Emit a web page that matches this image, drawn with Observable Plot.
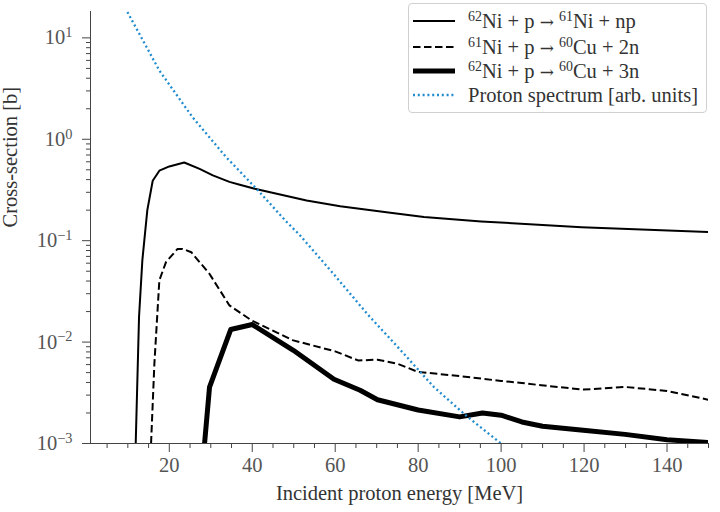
<!DOCTYPE html>
<html><head><meta charset="utf-8">
<script src="https://cdn.jsdelivr.net/npm/d3@7"></script>
<script src="https://cdn.jsdelivr.net/npm/@observablehq/plot@0.6"></script>
<style>
body{margin:0;background:#fff;}
#wrap{position:relative;width:720px;height:512px;font-family:"Liberation Serif",serif;}
#legend{position:absolute;left:408px;top:3px;width:297px;height:108px;border:1px solid #d0d0d0;border-radius:4px;background:rgba(255,255,255,0.85);}
.row{position:absolute;left:0;height:24px;display:flex;align-items:center;white-space:nowrap;}
.row svg{margin-left:4px;display:block;}
.row span{margin-left:13px;font-size:20.5px;color:#333;}
.row span .arr{margin:0;font-family:"DejaVu Serif",serif;font-size:17px;}
sup{font-size:0.68em;vertical-align:0.5em;line-height:0;}
</style></head>
<body><div id="wrap"></div>
<script>
// ---- data ----
const energyNp = [11.9, 12.7, 13.5, 14.7, 16, 17.6, 20, 23.6, 27.3, 30.5, 34.5, 37, 40.6, 53.1, 61.2, 73.3, 81.4, 95.2, 119.4, 150];
const csNp     = [0.001, 0.0177, 0.064, 0.2, 0.39, 0.49, 0.54, 0.59, 0.51, 0.44, 0.38, 0.356, 0.325, 0.249, 0.219, 0.189, 0.171, 0.155, 0.136, 0.1215];

const energy2n = [15.6, 16.4, 17.6, 19.2, 22, 23.2, 25.3, 29.7, 34.5, 39.8, 49.9, 60, 65.5, 70.2, 75.1, 80, 84, 90.3, 100, 105, 109.7, 119.8, 129.9, 140, 150];
const cs2n     = [0.001, 0.0061, 0.0407, 0.0615, 0.083, 0.083, 0.077, 0.047, 0.023, 0.0164, 0.0104, 0.0081, 0.0066, 0.0067, 0.0061, 0.00507, 0.0049, 0.0046, 0.00414, 0.00395, 0.00375, 0.0034, 0.00361, 0.0033, 0.0027];

const energy3n = [28.5, 29.7, 34.8, 40, 49.9, 59.7, 66, 70.2, 80, 90, 95.5, 100, 105, 110, 119.8, 129.9, 140, 150];
const cs3n     = [0.001, 0.0036, 0.0133, 0.0149, 0.0083, 0.0043, 0.00335, 0.0027, 0.00214, 0.00183, 0.002, 0.0019, 0.00163, 0.00148, 0.00135, 0.00123, 0.00109, 0.00102];

const energySpec = [9.9, 17.6, 25.6, 33.7, 41.4, 47.9, 51.5, 59.6, 67.7, 75.8, 83.8, 91.9, 100];
const spectrum   = [18, 4.76, 1.65, 0.667, 0.313, 0.159, 0.113, 0.047, 0.019, 0.0083, 0.0036, 0.00183, 0.001];

const seriesLabels = [
  "<sup>62</sup>Ni + p <span class='arr'>→</span> <sup>61</sup>Ni + np",
  "<sup>61</sup>Ni + p <span class='arr'>→</span> <sup>60</sup>Cu + 2n",
  "<sup>62</sup>Ni + p <span class='arr'>→</span> <sup>60</sup>Cu + 3n",
  "Proton spectrum [arb. units]"
];
const xLabel = "Incident proton energy [MeV]";
const yLabel = "Cross-section [b]";
const xMajor = [20, 40, 60, 80, 100, 120, 140];
const xMinor = [5,10,15,25,30,35,45,50,55,65,70,75,85,90,95,105,110,115,125,130,135,145,150];
const yMajor = [1e-3, 1e-2, 1e-1, 1, 10];
const yMinor = [];
for (const p of [-3,-2,-1,0]) for (let k = 2; k <= 9; k++) yMinor.push(k * Math.pow(10, p));

// ---- build ----
const toRows = (xs, ys) => xs.map((x, i) => ({x, y: ys[i]}));
const styles = [
  {stroke:"#000", strokeWidth:2},
  {stroke:"#000", strokeWidth:2, strokeDasharray:"7.5,3.5"},
  {stroke:"#000", strokeWidth:5},
  {stroke:"#1f8bd0", strokeWidth:2.3, strokeDasharray:"2,2.8"}
];
const datasets = [toRows(energyNp, csNp), toRows(energy2n, cs2n), toRows(energy3n, cs3n), toRows(energySpec, spectrum)];

const plot = Plot.plot({
  width: 720, height: 512,
  marginLeft: 90, marginRight: 12, marginTop: 11, marginBottom: 69,
  style: {fontFamily: "'Liberation Serif', serif", fontSize: "20.5px", background: "white", color: "#444"},
  x: {type: "linear", domain: [1, 150]},
  y: {type: "log", domain: [1e-3, 18.2]},
  marks: [
    Plot.axisY({ticks: yMinor, tickSize: 4, tickFormat: () => "", label: null, stroke: "#444"}),
    Plot.axisY({ticks: yMajor, tickSize: 8, tickPadding: 10, tickFormat: d => "10^" + Math.round(Math.log10(d)), label: null, stroke: "#444", fill: "#555"}),
    Plot.axisX({ticks: xMinor, tickSize: 5, tickFormat: () => "", label: null, stroke: "#444"}),
    Plot.axisX({ticks: xMajor, tickSize: 9, tickPadding: 5, label: null, stroke: "#444", fill: "#555"}),
    Plot.ruleX([1], {stroke: "#444", strokeWidth: 1}),
    Plot.ruleY([1e-3], {stroke: "#444", strokeWidth: 1}),
    ...datasets.map((d, i) => Plot.line(d, {x: "x", y: "y", clip: true, strokeLinecap: "butt", ...styles[i]})),
    Plot.text([xLabel], {frameAnchor: "bottom", dy: 56, fill: "#333", fontSize: 20.5}),
    Plot.text([yLabel], {frameAnchor: "left", dx: -80, rotate: -90, fill: "#333", fontSize: 20.5})
  ]
});

// superscript exponents on the y tick labels
d3.select(plot).selectAll('g[aria-label="y-axis tick label"] text').each(function() {
  const m = this.textContent.match(/^10\^(.*)$/);
  if (!m) return;
  const sel = d3.select(this);
  sel.text("10");
  sel.append("tspan").attr("dy", "-0.5em").attr("font-size", "0.7em").text(m[1].replace("-", "−"));
});

const wrap = document.getElementById("wrap");
wrap.appendChild(plot);

// legend
const legend = document.createElement("div");
legend.id = "legend";
const tops = [5, 31, 55, 79];
seriesLabels.forEach((lab, i) => {
  const row = document.createElement("div");
  row.className = "row";
  row.style.top = tops[i] + "px";
  const s = styles[i];
  row.innerHTML = `<svg width="42" height="24"><line x1="0" x2="42" y1="12" y2="12" stroke="${s.stroke}" stroke-width="${s.strokeWidth}" ${s.strokeDasharray ? `stroke-dasharray="${s.strokeDasharray}"` : ""}/></svg><span>${lab}</span>`;
  legend.appendChild(row);
});
wrap.appendChild(legend);
</script>
</body></html>
